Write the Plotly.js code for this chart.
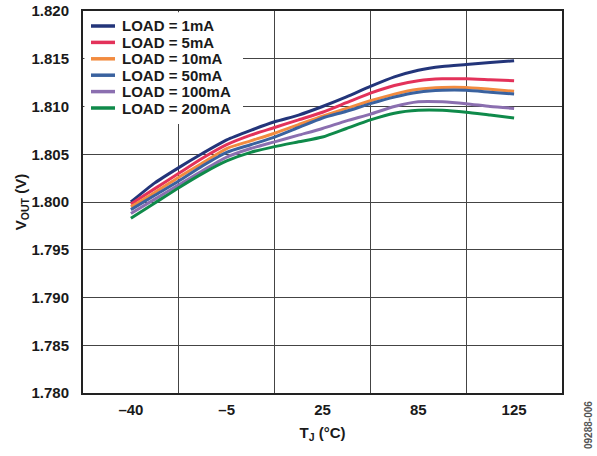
<!DOCTYPE html>
<html>
<head>
<meta charset="utf-8">
<script src="https://cdn.plot.ly/plotly-3.0.1.min.js"></script>
<style>html,body{margin:0;padding:0;background:#fff;}#chart{width:597px;height:456px;}</style>
</head>
<body>
<div id="chart"></div>
<script>
// Sample positions (index along the temperature axis) and tick labels
const pointIndex = [0,1,2,3,4,5,6,7,8,9,10,11,12,13,14,15,16];
const tickIndex = [0,4,8,12,16];
const tickLabels = ['\u201340','\u20135','25','85','125'];
const cellEdges = [2,6,10,14];

const seriesNames = ['LOAD = 1mA','LOAD = 5mA','LOAD = 10mA','LOAD = 50mA','LOAD = 100mA','LOAD = 200mA'];
const seriesColors = ['#23357a','#e3325a','#f28b3f','#3a629f','#8b6fb0','#0f8a4a'];

const load1mA   = [1.8000,1.8020,1.8036,1.8051,1.8065,1.8075,1.8084,1.8091,1.8100,1.8110,1.8121,1.8131,1.8138,1.8142,1.8144,1.8146,1.8148];
const load5mA   = [1.7998,1.8014,1.8030,1.8046,1.8060,1.8070,1.8078,1.8086,1.8094,1.8104,1.8114,1.8122,1.8127,1.8129,1.8129,1.8128,1.8127];
const load10mA  = [1.7995,1.8010,1.8026,1.8041,1.8056,1.8064,1.8072,1.8081,1.8090,1.8098,1.8106,1.8113,1.8118,1.8120,1.8120,1.8118,1.8116];
const load50mA  = [1.7992,1.8007,1.8022,1.8038,1.8052,1.8060,1.8068,1.8078,1.8088,1.8095,1.8103,1.8110,1.8115,1.8117,1.8117,1.8115,1.8113];
const load100mA = [1.7988,1.8003,1.8018,1.8033,1.8047,1.8056,1.8063,1.8070,1.8077,1.8085,1.8092,1.8100,1.8105,1.8105,1.8103,1.8100,1.8098];
const load200mA = [1.7983,1.7999,1.8015,1.8030,1.8043,1.8052,1.8058,1.8063,1.8068,1.8077,1.8086,1.8093,1.8096,1.8096,1.8094,1.8091,1.8088];

const seriesValues = [load1mA,load5mA,load10mA,load50mA,load100mA,load200mA];

const FONT = 'Arial, "Liberation Sans", sans-serif';
const TXT = '#1a1a1a';

const traces = seriesValues.map((vals,i)=>({
  x: pointIndex,
  y: vals,
  type: 'scatter',
  mode: 'lines',
  name: seriesNames[i],
  showlegend: false,
  line: {color: seriesColors[i], width: 3, shape: 'spline', smoothing: 0.6}
}));

// Legend drawn in plot-area (paper) fractions
const plotH = 382, plotW = 479;
const legTop = 15, legRow = 16.4;
const shapes = [{
  type: 'rect', xref: 'paper', yref: 'paper', layer: 'above',
  x0: 0.003, x1: 160/plotW, y0: 1 - 113/plotH, y1: 0.997,
  fillcolor: '#fff', line: {width: 0}
}];
const annotations = [];
seriesNames.forEach((nm,i)=>{
  const yy = 1 - (legTop + i*legRow)/plotH;
  shapes.push({type: 'line', xref: 'paper', yref: 'paper', layer: 'above',
    x0: 8/plotW, x1: 32/plotW, y0: yy, y1: yy,
    line: {color: seriesColors[i], width: 3.5}});
  annotations.push({text: nm, xref: 'paper', yref: 'paper', x: 37/plotW, y: yy,
    xanchor: 'left', yanchor: 'middle', showarrow: false,
    font: {family: FONT, size: 15, color: TXT, weight: 'bold'}});
});
annotations.push({
  text: '09288-006', xref: 'paper', yref: 'paper', x: 1.0, y: 0, xanchor: 'center', yanchor: 'middle',
  xshift: 26, yshift: -32, textangle: -90, showarrow: false,
  font: {family: FONT, size: 10, color: '#555'}
});

const layout = {
  width: 597, height: 456,
  margin: {l: 83, r: 35, t: 11, b: 63},
  paper_bgcolor: '#fff', plot_bgcolor: '#fff',
  font: {family: FONT, size: 15, color: TXT, weight: 'bold'},
  showlegend: false,
  xaxis: {
    range: [-2, 18],
    tickmode: 'array', tickvals: tickIndex, ticktext: tickLabels,
    showgrid: false, zeroline: false,
    ticks: '', ticklabelstandoff: 2,
    showline: true, mirror: true, linecolor: '#222', linewidth: 2,
    tickfont: {family: FONT, size: 15, color: TXT, weight: 'bold'},
    minor: {tickmode: 'array', tickvals: cellEdges, showgrid: true, gridcolor: '#444', gridwidth: 1, ticks: ''},
    title: {text: 'T<sub>J</sub> (°C)', font: {family: FONT, size: 15, color: TXT, weight: 'bold'}, standoff: 10}
  },
  yaxis: {
    range: [1.780, 1.820],
    tickmode: 'linear', tick0: 1.780, dtick: 0.005, tickformat: '.3f',
    showgrid: true, gridcolor: '#444', gridwidth: 1, zeroline: false,
    ticks: '', ticklabelstandoff: 9,
    showline: true, mirror: true, linecolor: '#222', linewidth: 2,
    tickfont: {family: FONT, size: 15, color: TXT, weight: 'bold'},
    title: {text: 'V<sub>OUT</sub> (V)', font: {family: FONT, size: 15, color: TXT, weight: 'bold'}, standoff: 0}
  },
  shapes: shapes,
  annotations: annotations
};

Plotly.newPlot('chart', traces, layout, {displayModeBar: false, staticPlot: true});
</script>
</body>
</html>
